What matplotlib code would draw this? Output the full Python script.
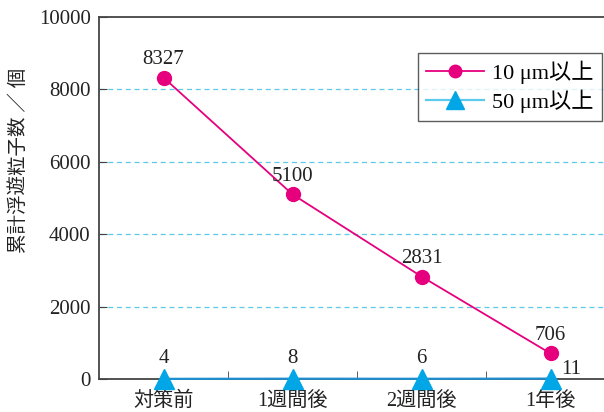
import matplotlib
matplotlib.use("Agg")
import matplotlib.pyplot as plt

categories = ["対策前", "1週間後", "2週間後", "1年後"]
series10 = [8327, 5100, 2831, 706]
series50 = [4, 8, 6, 11]
series_names = ["10 μm以上", "50 μm以上"]
yticks = [0, 2000, 4000, 6000, 8000, 10000]

FAM = ["Liberation Serif", "Noto Sans CJK JP", "DejaVu Sans"]
plt.rcParams["font.family"] = FAM

fig = plt.figure(figsize=(6.04, 4.12), dpi=100)
ax = fig.add_axes([99 / 604, 33 / 412, 516 / 604, 362 / 412])

x = list(range(len(categories)))
for g in yticks[1:-1]:
    ax.axhline(g, color="#5ccbeb", lw=0.9, ls=(0, (4, 3)), zorder=1)

ax.plot(x, series10, color="#e6007e", lw=1.3, marker="o", ms=10,
        label=series_names[0], zorder=3, clip_on=False)
ax.plot(x, series50, color="#1f8fd0", lw=1.6, marker="^", ms=14,
        markerfacecolor="#00a6e6", markeredgecolor="#00a6e6",
        label=series_names[1], zorder=4, clip_on=False)

for xi, v in zip(x, series10):
    ax.annotate(str(v), (xi, v), xytext=(0, 6), textcoords="offset points",
                ha="center", va="bottom", fontsize=15, color="#222222")
for xi, v in zip(x, series50):
    if xi == len(x) - 1:
        ax.annotate(str(v), (xi, v), xytext=(8, 0), textcoords="offset points",
                    ha="left", va="bottom", fontsize=15, color="#222222")
    else:
        ax.annotate(str(v), (xi, v), xytext=(0, 8), textcoords="offset points",
                    ha="center", va="bottom", fontsize=15, color="#222222")

ax.set_xlim(-0.5, len(categories) - 0.5)
ax.set_ylim(0, 10000)
ax.set_yticks(yticks)
ax.set_yticklabels([str(t) for t in yticks], fontsize=15, color="#222222")
ax.set_xticks(x)
ax.set_xticklabels(categories, fontsize=14.5, color="#222222")
ax.set_xticks([i + 0.5 for i in x[:-1]], minor=True)
ax.tick_params(axis="x", which="major", length=0, pad=9)
ax.tick_params(axis="x", which="minor", direction="in", length=6, color="#444444")
ax.tick_params(axis="y", direction="in", length=6, color="#444444", pad=6)

for s in ["left", "bottom", "top"]:
    ax.spines[s].set_color("#444444")
    ax.spines[s].set_linewidth(1.3)
ax.spines["right"].set_visible(False)

ax.set_ylabel("累計浮遊粒子数 ／ 個", fontsize=14, color="#222222")
ax.yaxis.set_label_coords(-0.137, 0.605)

leg = ax.legend(loc="upper left", bbox_to_anchor=((418 - 99) / 516, (379 - 53) / 362),
                borderaxespad=0, fontsize=16, frameon=True, fancybox=False,
                handlelength=2.6, borderpad=0.35, labelspacing=0.25,
                handletextpad=0.4, markerscale=0.9)
leg.get_frame().set_edgecolor("#333333")
leg.get_frame().set_linewidth(1.0)
leg.get_lines()[1].set_color("#5ccbeb")

fig.savefig("out.png", dpi=100)
